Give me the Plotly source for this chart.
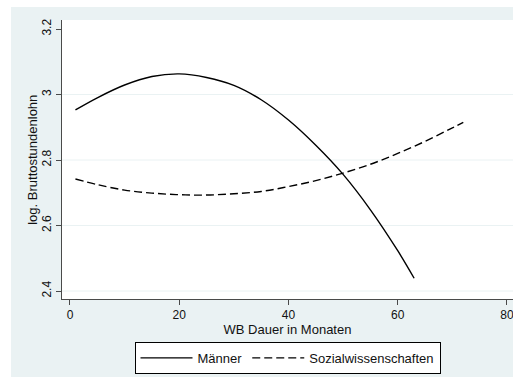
import plotly.graph_objects as go

# Data
maenner_x = [1, 5, 10, 15, 20, 25, 30, 35, 40, 45, 50, 55, 60, 63]
maenner_y = [2.953, 2.990, 3.029, 3.055, 3.063, 3.052, 3.028, 2.984, 2.922,
             2.845, 2.756, 2.648, 2.523, 2.439]

sozial_x = [1, 5, 10, 15, 20, 25, 30, 35, 40, 45, 50, 55, 60, 65, 70, 72]
sozial_y = [2.742, 2.725, 2.708, 2.699, 2.694, 2.693, 2.697, 2.704, 2.719,
            2.737, 2.760, 2.787, 2.820, 2.857, 2.898, 2.915]

x_ticks = [0, 20, 40, 60, 80]
y_ticks = [2.4, 2.6, 2.8, 3.0, 3.2]
y_tick_labels = ["2.4", "2.6", "2.8", "3", "3.2"]
grid_values = [2.4, 2.6, 2.8, 3.0]

BG = "#eaf2f3"
AXIS = "#4a4a4a"
FONT = "Liberation Sans, Arial, sans-serif"

fig = go.Figure()
fig.add_trace(go.Scatter(x=maenner_x, y=maenner_y, mode="lines", name="Männer",
                         line=dict(color="black", width=1.4, shape="spline")))
fig.add_trace(go.Scatter(x=sozial_x, y=sozial_y, mode="lines", name="Sozialwissenschaften",
                         line=dict(color="black", width=1.4, dash="8px,4px", shape="spline")))

shapes = []
for g in grid_values:
    shapes.append(dict(type="line", xref="paper", yref="y", x0=0, x1=1, y0=g, y1=g,
                       line=dict(color=BG, width=1), layer="below"))
# white page margins around the grey-blue graph region
shapes.append(dict(type="rect", xref="paper", yref="paper", x0=-0.2, x1=-0.1131,
                   y0=-0.4, y1=1.2, fillcolor="white", line=dict(width=0), layer="above"))
shapes.append(dict(type="rect", xref="paper", yref="paper", x0=-0.2, x1=1.2,
                   y0=1.0466, y1=1.2, fillcolor="white", line=dict(width=0), layer="above"))
shapes.append(dict(type="rect", xref="paper", yref="paper", x0=-0.2, x1=1.2,
                   y0=-0.4, y1=-0.2796, fillcolor="white", line=dict(width=0), layer="above"))

fig.update_layout(
    width=513, height=381,
    margin=dict(l=62, r=0, t=20, b=82, autoexpand=False),
    paper_bgcolor=BG, plot_bgcolor="white",
    font=dict(family=FONT, size=13, color="#111"),
    shapes=shapes,
    showlegend=True,
    legend=dict(orientation="h", x=0.5, xanchor="center", y=-0.154, yanchor="top",
                bgcolor="white", bordercolor="black", borderwidth=1,
                font=dict(size=13), itemwidth=52),
    xaxis=dict(range=[-1.46, 81.1], tickvals=x_ticks, showgrid=False, zeroline=False,
               showline=True, linecolor=AXIS, linewidth=1, ticks="outside", ticklen=5,
               tickcolor=AXIS, tickfont=dict(size=12), ticklabeloverflow="allow",
               title=dict(text="WB Dauer in Monaten", font=dict(size=13), standoff=0)),
    yaxis=dict(range=[2.3756, 3.2275], tickvals=y_ticks, ticktext=y_tick_labels,
               tickangle=-90, showgrid=False, zeroline=False,
               showline=True, linecolor=AXIS, linewidth=1, ticks="outside", ticklen=5,
               tickcolor=AXIS, tickfont=dict(size=12)),
    annotations=[dict(text="log. Bruttostundenlohn", xref="paper", yref="paper",
                      x=-0.0659, y=0.5, xanchor="center", yanchor="middle",
                      textangle=-90, showarrow=False, font=dict(size=13))],
)

fig.write_html(
    "out.html",
    config={"displayModeBar": False},
    post_script="document.body.style.margin='0';document.documentElement.style.overflow='hidden';document.body.style.overflow='hidden';",
)
